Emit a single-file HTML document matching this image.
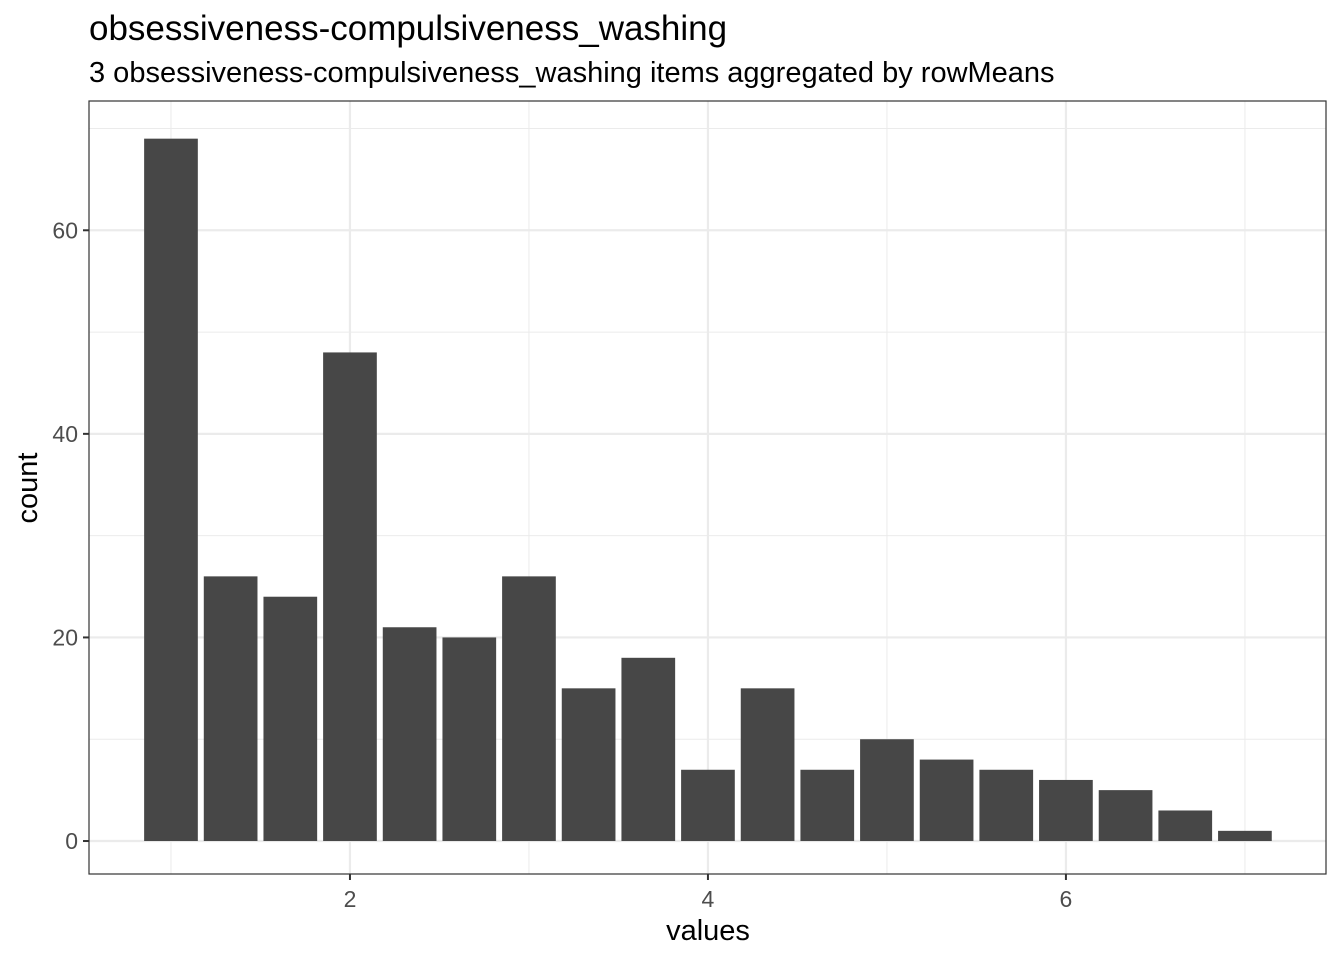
<!DOCTYPE html>
<html><head><meta charset="utf-8"><style>
body{margin:0;background:#fff;}
svg{display:block;font-family:"Liberation Sans",Arial,sans-serif;}
</style></head><body>
<svg id="chart" width="1344" height="960">
<text x="89" y="40" font-size="35" fill="#000">obsessiveness-compulsiveness_washing</text>
<text x="89" y="82" font-size="29" fill="#000">3 obsessiveness-compulsiveness_washing items aggregated by rowMeans</text>
<g id="grid"></g><g id="bars"></g><g id="axes"></g>
<text x="708" y="940" font-size="29" text-anchor="middle">values</text>
<text transform="translate(37,488) rotate(-90)" font-size="29" text-anchor="middle">count</text>
</svg>
<script>
const binCenters=[1,1.3333,1.6667,2,2.3333,2.6667,3,3.3333,3.6667,4,4.3333,4.6667,5,5.3333,5.6667,6,6.3333,6.6667,7];
const counts=[69,26,24,48,21,20,26,15,18,7,15,7,10,8,7,6,5,3,1];
const xTicks=[2,4,6];
const xMinor=[1,3,5,7];
const yTicks=[0,20,40,60];
const yMinor=[10,30,50,70];
const binWidth=0.3;
const L=89,R=1326,T=101,B=874;
const xDom=[0.542,7.453],yDom=[-3.24,72.7];
const xs=v=>L+(v-xDom[0])/(xDom[1]-xDom[0])*(R-L);
const ys=v=>B-(v-yDom[0])/(yDom[1]-yDom[0])*(B-T);
const NS="http://www.w3.org/2000/svg";
function mk(p,t,a){const e=document.createElementNS(NS,t);for(const k in a)e.setAttribute(k,a[k]);p.appendChild(e);return e;}
const g=document.getElementById('grid'),b=document.getElementById('bars'),ax=document.getElementById('axes');
for(const v of xMinor){const e=mk(g,'line',{x1:xs(v),x2:xs(v),y1:T,y2:B,stroke:'#ebebeb','stroke-width':1});

}
for(const v of yMinor){const e=mk(g,'line',{x1:L,x2:R,y1:ys(v),y2:ys(v),stroke:'#ebebeb','stroke-width':1});

}
for(const v of xTicks){const e=mk(g,'line',{x1:xs(v),x2:xs(v),y1:T,y2:B,stroke:'#ebebeb','stroke-width':2.2});

}
for(const v of yTicks){const e=mk(g,'line',{x1:L,x2:R,y1:ys(v),y2:ys(v),stroke:'#ebebeb','stroke-width':2.2});

}
binCenters.forEach((c,i)=>{const x0=xs(c-binWidth/2),x1=xs(c+binWidth/2);
const e=mk(b,'rect',{x:x0,y:ys(counts[i]),width:x1-x0,height:ys(0)-ys(counts[i]),fill:'#474747'});

});
const fr=mk(ax,'rect',{x:L,y:T,width:R-L,height:B-T,fill:'none',stroke:'#333','stroke-width':1.2});


for(const v of xTicks){mk(ax,'line',{x1:xs(v),x2:xs(v),y1:B,y2:B+6,stroke:'#333','stroke-width':2});
const t=mk(ax,'text',{x:xs(v),y:B+33,'font-size':23,'text-anchor':'middle',fill:'#4d4d4d'});t.textContent=v;

}
for(const v of yTicks){mk(ax,'line',{x1:L-6,x2:L,y1:ys(v),y2:ys(v),stroke:'#333','stroke-width':2});
const t=mk(ax,'text',{x:L-11,y:ys(v)+8,'font-size':23,'text-anchor':'end',fill:'#4d4d4d'});t.textContent=v;

}
</script>
</body></html>
